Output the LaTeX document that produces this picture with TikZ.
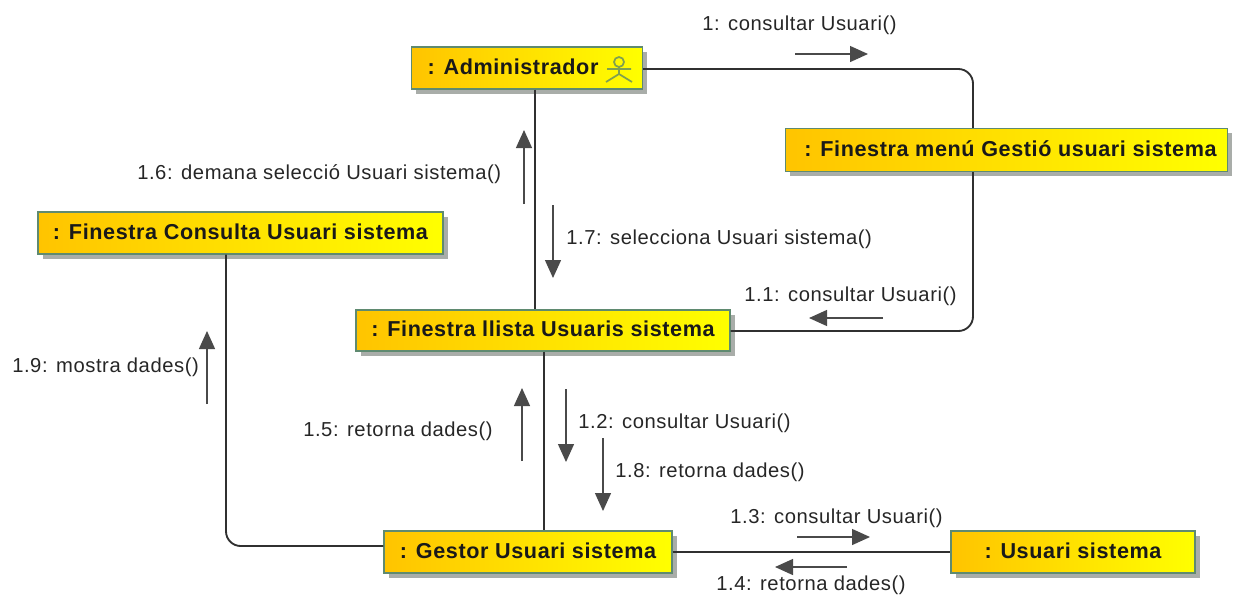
\documentclass[tikz,border=0pt]{standalone}
\usepackage{fontspec}
\setmainfont[LetterSpace=2.8]{Liberation Sans}
\usetikzlibrary{shadows,arrows.meta}
\definecolor{boxedge}{HTML}{5F8A70}
\definecolor{boxshadow}{HTML}{A9ADA9}
\definecolor{boxleft}{HTML}{FFC400}
\definecolor{boxright}{HTML}{FFFF00}
\definecolor{wire}{HTML}{303030}
\definecolor{msg}{HTML}{4A4A4A}
\definecolor{actor}{HTML}{7FA050}
\newcommand{\boxtxt}[1]{\raisebox{2.5pt}{#1}}
\newcommand{\msggap}{\hspace{6.4pt}}
\tikzset{
  x=0.75pt,y=-0.75pt,
  classbox/.style={rectangle,draw=boxedge,line width=1pt,left color=boxleft,right color=boxright,
    inner sep=0pt,font=\fontsize{16.2}{18}\selectfont\bfseries,text=black!90,
    general shadow={fill=boxshadow,draw=none,shadow xshift=3.5pt,shadow yshift=-3.5pt}},
  link/.style={draw=wire,line width=1.4pt,rounded corners=11pt},
  msgarrow/.style={draw=msg,line width=1pt,-{Triangle[length=13.5pt,width=12pt]}},
  label/.style={inner sep=0pt,font=\fontsize{15.15}{18}\selectfont,text=black!85,anchor=west},
}
\begin{document}
\begin{tikzpicture}
\useasboundingbox (0,0) rectangle (1238,594);
% boxes
\node[classbox,minimum width=173.25pt,minimum height=31.5pt] (admin) at (527,68) {\boxtxt{\hspace*{-21pt}: Administrador}};
\node[classbox,minimum width=331.5pt,minimum height=32.25pt] (menu) at (1006.5,150) {\boxtxt{\hspace*{6pt}: Finestra menú Gestió usuari sistema}};
\node[classbox,minimum width=303.75pt,minimum height=31.5pt] (consulta) at (240.5,233) {\boxtxt{: Finestra Consulta Usuari sistema}};
\node[classbox,minimum width=280.5pt,minimum height=30.75pt] (llista) at (543,330.5) {\boxtxt{: Finestra llista Usuaris sistema}};
\node[classbox,minimum width=216pt,minimum height=31.5pt] (gestor) at (528,552) {\boxtxt{: Gestor Usuari sistema}};
\node[classbox,minimum width=183pt,minimum height=31.5pt] (usuari) at (1073,552) {\boxtxt{: Usuari sistema}};
% actor icon
\coordinate (ac) at (619,62);
\draw[actor,line width=1.3pt] (ac) circle (5)
  (619,67) -- (619,74) (607,69) -- (631,69) (619,74) -- (606,82) (619,74) -- (632,82);
% connector guides
\coordinate (c1) at (973,69);
\coordinate (c2) at (535,0);
\coordinate (c3) at (544,0);
\coordinate (c4) at (226,546);
\coordinate (c5) at (973,331);
% connectors
\draw[link] (admin.east |- c1) -- (c1) -- (c1 |- menu.north);
\draw[link] (c5 |- menu.south) -- (c5) -- (llista.east |- c5);
\draw[link] (c2 |- admin.south) -- (c2 |- llista.north);
\draw[link] (c3 |- llista.south) -- (c3 |- gestor.north);
\draw[link] (c4 |- consulta.south) -- (c4) -- (gestor.west |- c4);
\draw[link] (gestor.east) -- (usuari.west);
% message arrows
\coordinate (m1a) at (795,54); \coordinate (m1b) at (868,54);
\coordinate (m11a) at (883,318); \coordinate (m11b) at (809,318);
\coordinate (m16a) at (524,204); \coordinate (m16b) at (524,130);
\coordinate (m17a) at (553,205); \coordinate (m17b) at (553,278);
\coordinate (m19a) at (207,404); \coordinate (m19b) at (207,331);
\coordinate (m15a) at (522,461); \coordinate (m15b) at (522,388);
\coordinate (m12a) at (566,389); \coordinate (m12b) at (566,462);
\coordinate (m18a) at (603,438); \coordinate (m18b) at (603,511);
\coordinate (m13a) at (797,537); \coordinate (m13b) at (870,537);
\coordinate (m14a) at (847,567); \coordinate (m14b) at (775,567);
\foreach \m in {m1,m11,m16,m17,m19,m15,m12,m18,m13,m14} \draw[msgarrow] (\m a) -- (\m b);
% labels
\node[label] (l1) at (702,25) {1:\msggap consultar Usuari()};
\node[label] (l16) at (137,174) {1.6:\msggap demana selecció Usuari sistema()};
\node[label] (l17) at (566,239) {1.7:\msggap selecciona Usuari sistema()};
\node[label] (l11) at (744,296) {1.1:\msggap consultar Usuari()};
\node[label] (l19) at (12,367) {1.9:\msggap mostra dades()};
\node[label] (l15) at (303,431) {1.5:\msggap retorna dades()};
\node[label] (l12) at (578,423) {1.2:\msggap consultar Usuari()};
\node[label] (l18) at (615,472) {1.8:\msggap retorna dades()};
\node[label] (l13) at (730,518) {1.3:\msggap consultar Usuari()};
\node[label] (l14) at (716,585) {1.4:\msggap retorna dades()};
\end{tikzpicture}
\end{document}
